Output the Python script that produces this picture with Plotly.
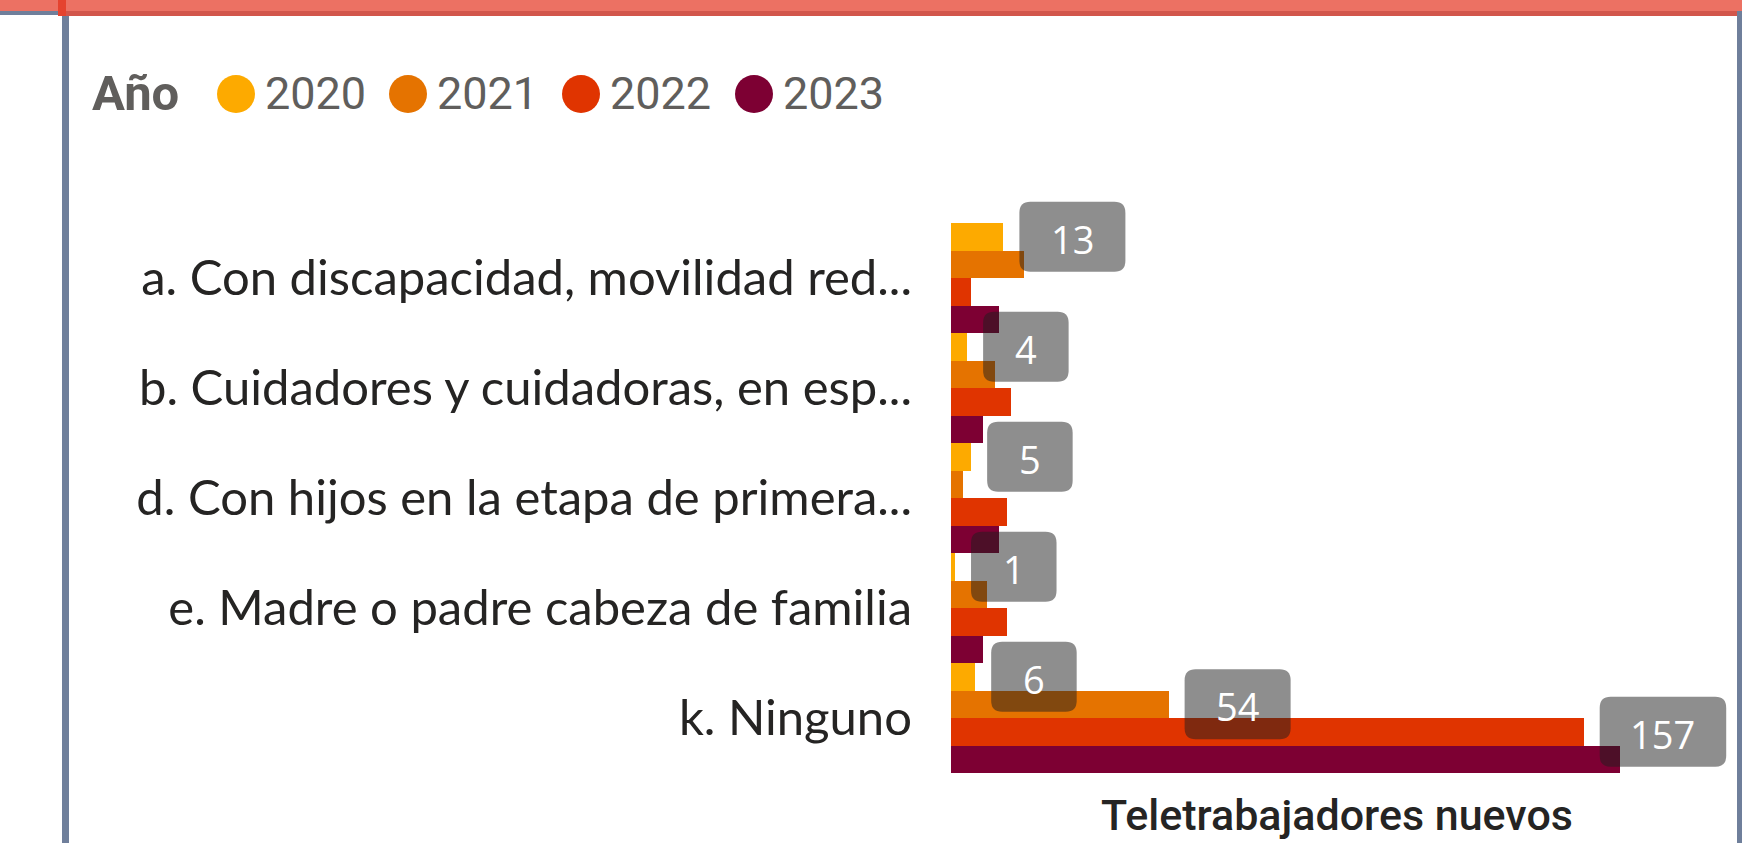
import plotly.graph_objects as go

# ---------------- data ----------------
categories = [
    "a. Con discapacidad, movilidad red...",
    "b. Cuidadores y cuidadoras, en esp...",
    "d. Con hijos en la etapa de primera...",
    "e. Madre o padre cabeza de familia",
    "k. Ninguno",
]
years = ["2020", "2021", "2022", "2023"]
v2020 = [13, 4, 5, 1, 6]
v2021 = [18, 11, 3, 9, 54]
v2022 = [5, 15, 14, 14, 157]
v2023 = [12, 8, 12, 8, 166]
series_values = [v2020, v2021, v2022, v2023]
colors = ["#FDAA00", "#E57300", "#E03400", "#7D0033"]
# labels that the original chart displays: (series index, category index)
shown_labels = [(0, 0), (0, 1), (0, 2), (0, 3), (0, 4), (1, 4), (2, 4)]
legend_title = "Año"
axis_title = "Teletrabajadores nuevos"

# ---------------- layout geometry ----------------
W, H = 1742, 843
ML, MR, MT, MB = 951, 8, 168, 70
PW, PH = W - ML - MR, H - MT - MB
XMAX = PW / 4.03
CAT_PX = 110.0
YTOP = -0.5 - (PH - CAT_PX * len(categories)) / CAT_PX   # extra headroom above first category


def px(xp):
    return (xp - ML) / PW


def py(yp):
    return (H - MB - yp) / PH


fig = go.Figure()
for name, vals, col in zip(years, series_values, colors):
    fig.add_trace(go.Bar(
        y=categories, x=vals, name=name, orientation="h",
        marker=dict(color=col, line=dict(width=0)),
        showlegend=False, hoverinfo="x+y+name",
    ))

shapes = []
annotations = []

# data label boxes (rounded, semi-transparent) + text
BAR_PX = CAT_PX / len(years)
BOX_H = 70
R = 11
for (si, ci) in shown_labels:
    val = series_values[si][ci]
    txt = str(val)
    w = 65 + 20.5 * len(txt)
    yc = (1.5 - si) * BAR_PX
    x0, x1 = 16, 16 + w
    y0, y1 = yc - BOX_H / 2, yc + BOX_H / 2
    path = (f"M {x0+R},{y0} L {x1-R},{y0} Q {x1},{y0} {x1},{y0+R} "
            f"L {x1},{y1-R} Q {x1},{y1} {x1-R},{y1} L {x0+R},{y1} "
            f"Q {x0},{y1} {x0},{y1-R} L {x0},{y0+R} Q {x0},{y0} {x0+R},{y0} Z")
    shapes.append(dict(
        type="path", xref="x", yref="y", xsizemode="pixel", ysizemode="pixel",
        xanchor=val, yanchor=ci, path=path,
        fillcolor="rgba(30,30,30,0.5)", line=dict(width=0), layer="above",
    ))
    annotations.append(dict(
        x=val, y=ci, xref="x", yref="y", text=txt, showarrow=False,
        xanchor="center", yanchor="middle", xshift=16 + w / 2, yshift=yc - 2,
        font=dict(family="Open Sans", size=38, color="#FFFFFF"),
    ))

# custom legend (circle markers + text)
legend_y = 94
annotations.append(dict(
    x=px(90), y=py(legend_y), xref="paper", yref="paper", text=f"<b>{legend_title}</b>",
    showarrow=False, xanchor="left", yanchor="middle",
    font=dict(family="Roboto", size=49, color="#605E5C"),
))
circle_cx = [236, 408, 581, 754]
text_x = [263, 435, 608, 781]
for name, col, cx, tx in zip(years, colors, circle_cx, text_x):
    r = 19
    shapes.append(dict(
        type="circle", xref="paper", yref="paper",
        x0=px(cx - r), x1=px(cx + r), y0=py(legend_y + r), y1=py(legend_y - r),
        fillcolor=col, line=dict(width=0), layer="above",
    ))
    annotations.append(dict(
        x=px(tx), y=py(legend_y), xref="paper", yref="paper", text=name,
        showarrow=False, xanchor="left", yanchor="middle",
        font=dict(family="Roboto", size=45, color="#605E5C"),
    ))

# axis title (kept fully inside the canvas)
annotations.append(dict(
    x=px(1337), y=py(842), xref="paper", yref="paper", text=axis_title,
    showarrow=False, xanchor="center", yanchor="bottom",
    font=dict(family="Roboto", size=43, color="#252423", weight=500),
))

# frame decorations (report canvas borders)
def rect(x0, y0, x1, y1, col):
    shapes.append(dict(type="rect", xref="paper", yref="paper",
                       x0=px(x0), x1=px(x1), y0=py(y1), y1=py(y0),
                       fillcolor=col, line=dict(width=0), layer="above"))

rect(0, 0, W, 12, "#EC7163")
rect(58, 11, W, 16, "#D2564B")
rect(0, 11, 58, 15, "#6F7F9B")
rect(58, 0, 66, 16, "#E5432F")
rect(62, 16, 69, H, "#6F7F9B")
rect(1737, 11, W, H, "#6F7F9B")

fig.update_layout(
    width=W, height=H,
    margin=dict(l=ML, r=MR, t=MT, b=MB, autoexpand=False),
    paper_bgcolor="#FFFFFF", plot_bgcolor="#FFFFFF",
    barmode="group", bargap=0, bargroupgap=0,
    showlegend=False,
    shapes=shapes, annotations=annotations,
    xaxis=dict(range=[0, XMAX], showgrid=False, zeroline=False,
               showticklabels=False, showline=False, ticks=""),
    yaxis=dict(range=[len(categories) - 0.5, YTOP], showgrid=False, zeroline=False,
               showline=False, ticks="", ticklabelstandoff=38,
               tickfont=dict(family="Lato", size=49, color="#252423")),
)

fig.write_html(
    "out.html",
    config={"displayModeBar": False},
    post_script="document.body.style.margin='0';document.body.style.overflow='hidden';",
)
